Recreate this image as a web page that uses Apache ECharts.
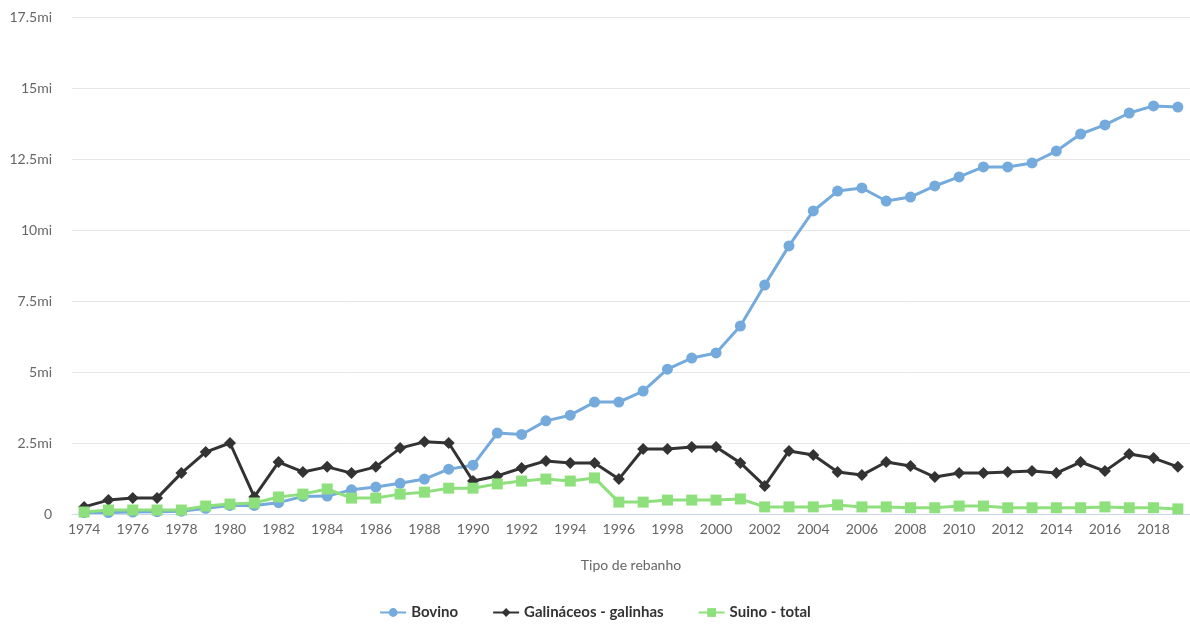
<!DOCTYPE html>
<html>
<head>
<meta charset="utf-8">
<script src="https://cdn.jsdelivr.net/npm/echarts@6/dist/echarts.min.js"></script>
<style>
  html, body { margin: 0; padding: 0; background: #fff; }
  #chart { width: 1190px; height: 628px; }
</style>
</head>
<body>
<div id="chart"></div>
<script type="text/javascript">
    // anos
    var anos = [];
    for (var a = 1974; a <= 2019; a++) anos.push(String(a));

    // valores em milhões de cabeças
    var bovino = [0.05, 0.05, 0.07, 0.08, 0.1, 0.2, 0.3, 0.3, 0.4, 0.62,
        0.63, 0.85, 0.95, 1.08, 1.23, 1.58, 1.72, 2.85, 2.8, 3.28,
        3.48, 3.94, 3.94, 4.33, 5.1, 5.49, 5.67, 6.62, 8.06, 9.44,
        10.67, 11.37, 11.48, 11.02, 11.16, 11.55, 11.87, 12.22, 12.22, 12.36,
        12.78, 13.38, 13.7, 14.12, 14.37, 14.33];
    var galinhas = [0.25, 0.49, 0.56, 0.56, 1.44, 2.18, 2.5, 0.6, 1.83, 1.48,
        1.66, 1.44, 1.66, 2.32, 2.54, 2.5, 1.16, 1.34, 1.62, 1.87,
        1.8, 1.8, 1.23, 2.29, 2.29, 2.36, 2.36, 1.8, 0.99, 2.22,
        2.08, 1.48, 1.37, 1.83, 1.69, 1.3, 1.44, 1.44, 1.48, 1.51,
        1.44, 1.83, 1.51, 2.11, 1.97, 1.66];
    var suino = [0.07, 0.14, 0.14, 0.14, 0.14, 0.28, 0.35, 0.39, 0.6, 0.7,
        0.88, 0.56, 0.56, 0.7, 0.77, 0.91, 0.91, 1.06, 1.16, 1.23,
        1.16, 1.27, 0.42, 0.42, 0.49, 0.49, 0.49, 0.53, 0.25, 0.25,
        0.25, 0.32, 0.25, 0.25, 0.22, 0.22, 0.28, 0.28, 0.22, 0.22,
        0.22, 0.22, 0.25, 0.22, 0.22, 0.18];

    var myChart = echarts.init(document.getElementById('chart'));
    var option = {
        animation: false,
        textStyle: { fontFamily: 'Lato' },
        grid: { left: 72, right: -7, top: 17, bottom: 114 },
        legend: {
            bottom: 3,
            left: 'center',
            itemGap: 34,
            itemWidth: 26,
            itemHeight: 11,
            textStyle: { fontSize: 15, color: '#333', fontWeight: 'bold' },
            data: ['Bovino', 'Galináceos - galinhas', 'Suino - total']
        },
        xAxis: {
            type: 'category',
            boundaryGap: true,
            data: anos,
            name: 'Tipo de rebanho',
            nameLocation: 'middle',
            nameGap: 44,
            nameTextStyle: { fontSize: 14, color: '#666' },
            axisLine: { lineStyle: { color: '#ccd6eb' } },
            axisTick: { alignWithLabel: true, interval: 1, length: 8, lineStyle: { color: '#ccd6eb' } },
            axisLabel: { interval: 1, fontSize: 14, color: '#666', margin: 8 }
        },
        yAxis: {
            type: 'value',
            min: 0,
            max: 17.5,
            interval: 2.5,
            splitLine: { lineStyle: { color: '#e6e6e6' } },
            axisLabel: {
                fontSize: 14,
                color: '#666',
                margin: 20,
                formatter: function (v) { return v === 0 ? '0' : v + 'mi'; }
            }
        },
        series: [
            {
                name: 'Bovino',
                type: 'line',
                data: bovino,
                color: '#74abdc',
                symbol: 'circle',
                symbolSize: 11,
                lineStyle: { width: 3 }
            },
            {
                name: 'Galináceos - galinhas',
                type: 'line',
                data: galinhas,
                color: '#333333',
                symbol: 'diamond',
                symbolSize: 12,
                lineStyle: { width: 3 }
            },
            {
                name: 'Suino - total',
                type: 'line',
                data: suino,
                color: '#8ee07c',
                symbol: 'rect',
                symbolSize: 11,
                lineStyle: { width: 3 }
            }
        ]
    };
    myChart.setOption(option);
</script>
</body>
</html>
